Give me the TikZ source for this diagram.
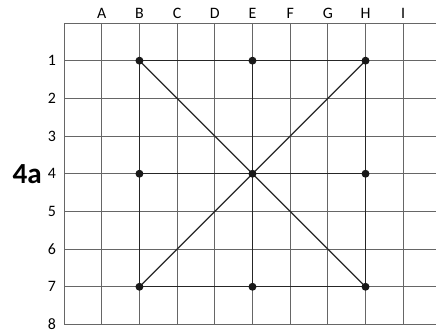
\documentclass[tikz,border=0pt]{standalone}
\usepackage{fontspec}
\setmainfont{Carlito}
\tikzset{
  gridline/.style={black!60,line width=0.55pt},
  figline/.style={black!85,line width=0.9pt},
  dot/.style={circle,fill=black!90,inner sep=0pt,minimum size=6pt},
  lbl/.style={font=\fontsize{12}{14}\selectfont}
}
\begin{document}
\begin{tikzpicture}[x=1cm,y=-1cm]
  \useasboundingbox (-1.70,-0.61) rectangle (9.87,8.21);
  % grid
  \foreach \r in {0,...,8}
    \draw[gridline] (0,\r) -- (9.87,\r);
  \foreach \c in {0,...,9}
    \draw[gridline] (\c,0) -- (\c,8);
  % letters and numbers
  \foreach \l [count=\c] in {A,B,C,D,E,F,G,H,I}
    \node[lbl] (col\l) at (\c,-0.25) {\l};
  \foreach \r in {1,...,8}
    \node[lbl] (row\r) at (-0.32,\r) {\r};
  \node (title) at (-0.98,4) {\fontsize{22}{26}\selectfont\bfseries 4a};
  % figure points
  \foreach \n/\x in {B/2,E/5,H/8}
    \foreach \y in {1,4,7}
      \coordinate (\n\y) at (\x,\y);
  \draw[figline] (B1) -- (H1) -- (H7) -- (B7) -- cycle;
  \draw[figline] (E1) -- (E7);
  \draw[figline] (B4) -- (H4);
  \draw[figline] (B1) -- (H7);
  \draw[figline] (H1) -- (B7);
  \foreach \p in {B1,E1,H1,B4,E4,H4,B7,E7,H7}
    \node[dot] (dot\p) at (\p) {};
\end{tikzpicture}
\end{document}
